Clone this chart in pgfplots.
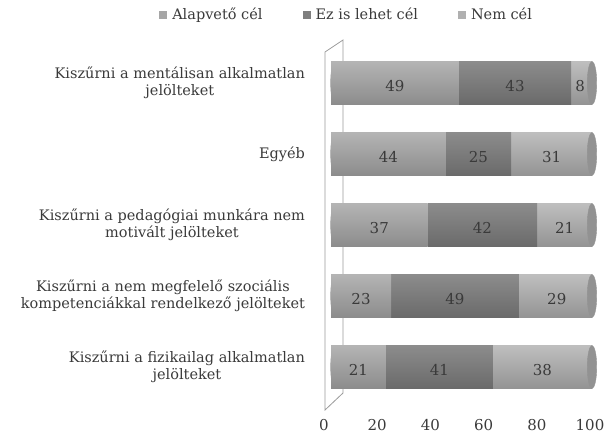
\documentclass[border=0pt]{standalone}
\usepackage{pgfplots}
\pgfplotsset{compat=1.18}
\usepackage{fontspec}
\setmainfont{DejaVu Serif}

\definecolor{txt}{HTML}{3A3A3A}
\definecolor{alapA}{HTML}{B4B4B4}
\definecolor{alapB}{HTML}{A6A6A6}
\definecolor{alapC}{HTML}{8C8C8C}
\definecolor{ezA}{HTML}{8C8C8C}
\definecolor{ezB}{HTML}{7F7F7F}
\definecolor{ezC}{HTML}{6A6A6A}
\definecolor{nemA}{HTML}{BEBEBE}
\definecolor{nemB}{HTML}{B0B0B0}
\definecolor{nemC}{HTML}{949494}
\definecolor{capc}{HTML}{929292}
\definecolor{wall}{HTML}{9A9A9A}

\pgfplotsset{
    rowax/.style={
        anchor=south west, scale only axis,
        width=261pt, height=71pt,
        xmin=0, xmax=100, ymin=-0.5, ymax=0.5,
        hide axis, xbar stacked, bar width=43pt,
    },
    fullax/.style={
        at={(331pt,36.5pt)}, anchor=south west, scale only axis,
        width=261pt, height=355pt,
        xmin=0, xmax=100, ymin=-0.5, ymax=4.5,
        hide axis,
    },
    alap/.style={draw=none, top color=alapA, middle color=alapB, bottom color=alapC},
    ez/.style={draw=none, top color=ezA, middle color=ezB, bottom color=ezC},
    nem/.style={draw=none, top color=nemA, middle color=nemB, bottom color=nemC},
}

\begin{document}
\fontsize{14.5}{17.5}\selectfont
\begin{tikzpicture}[x=1pt,y=1pt]
\useasboundingbox (0,0) rectangle (604,439);

% left wall of the 3D plot area
\draw[wall, line width=0.8pt] (325,29) -- (325,387) -- (343,399) -- (343,46) -- cycle;

% frame: tick labels, category names, legend
\begin{axis}[
    at={(324pt,36.5pt)}, anchor=south west,
    scale only axis,
    width=266pt, height=355pt,
    xmin=0, xmax=100,
    ymin=-0.5, ymax=4.5,
    xtick={0,20,...,100},
    ytick={0,...,4},
    yticklabels={
        {Kiszűrni a fizikailag alkalmatlan\\jelölteket},
        {Kiszűrni a nem megfelelő szociális\\kompetenciákkal rendelkező jelölteket},
        {Kiszűrni a pedagógiai munkára nem\\motivált jelölteket},
        {Egyéb},
        {Kiszűrni a mentálisan alkalmatlan\\jelölteket}},
    yticklabel style={align=center, text=txt, xshift=-14pt, font=\fontsize{14.5}{17.5}\selectfont},
    xticklabel style={text=txt, yshift=-12pt, font=\fontsize{15}{18}\selectfont},
    /pgf/number format/assume math mode=true,
    axis line style={draw=none},
    major tick length=0pt,
    legend columns=3,
    legend style={draw=none, fill=none, at={(axis description cs:0.085,1.092)}, anchor=center,
        /tikz/every even column/.append style={column sep=38pt},
        /tikz/every odd column/.append style={column sep=3pt},
        text=txt, font=\fontsize{14.5}{17.5}\selectfont},
    legend image code/.code={\fill[#1, draw=none] (0pt,-4pt) rectangle (8pt,4pt);},
]
\addlegendimage{fill=alapB, draw=none}
\addlegendentry{Alapvető cél}
\addlegendimage{fill=ezB, draw=none}
\addlegendentry{Ez is lehet cél}
\addlegendimage{fill=nemB, draw=none}
\addlegendentry{Nem cél}
\end{axis}

% rounded left ends of the cylinders
\begin{axis}[fullax]
\addplot[color=alapB, only marks, mark=*, mark size=21.5pt,
    mark options={xscale=0.2, draw=alapB, fill=alapB}]
    coordinates {(1.5,0) (1.5,1) (1.5,2) (1.5,3) (1.5,4)};
\end{axis}

% one axis per row, so that every bar gets its own shading
\begin{axis}[rowax, at={(331pt,36.5pt)}]
\addplot[alap] coordinates {(21,0)};
\addplot[ez]   coordinates {(41,0)};
\addplot[nem]  coordinates {(38,0)};
\end{axis}
\begin{axis}[rowax, at={(331pt,107.5pt)}]
\addplot[alap] coordinates {(23,0)};
\addplot[ez]   coordinates {(49,0)};
\addplot[nem]  coordinates {(29,0)};
\end{axis}
\begin{axis}[rowax, at={(331pt,178.5pt)}]
\addplot[alap] coordinates {(37,0)};
\addplot[ez]   coordinates {(42,0)};
\addplot[nem]  coordinates {(21,0)};
\end{axis}
\begin{axis}[rowax, at={(331pt,249.5pt)}]
\addplot[alap] coordinates {(44,0)};
\addplot[ez]   coordinates {(25,0)};
\addplot[nem]  coordinates {(31,0)};
\end{axis}
\begin{axis}[rowax, at={(331pt,320.5pt)}]
\addplot[alap] coordinates {(49,0)};
\addplot[ez]   coordinates {(43,0)};
\addplot[nem]  coordinates {(8,0)};
\end{axis}

% cylinder right end caps and value labels
\begin{axis}[fullax]
\addplot[color=capc, only marks, mark=*, mark size=21.5pt,
    mark options={xscale=0.22, draw=capc, fill=capc}]
    coordinates {(100,0) (100,1) (100,2) (100,3) (100,4)};
\addplot[draw=none, nodes near coords, point meta=explicit symbolic,
    every node near coord/.style={anchor=center, yshift=-3pt, text=txt,
        font=\fontsize{15}{18}\selectfont}]
    coordinates {
    (10.5,0)[21] (41.5,0)[41] (81,0)[38]
    (11.5,1)[23] (47.5,1)[49] (86.5,1)[29]
    (18.5,2)[37] (58,2)[42] (89.5,2)[21]
    (22,3)[44] (56.5,3)[25] (84.5,3)[31]
    (24.5,4)[49] (70.5,4)[43] (95.5,4)[8]
    };
\end{axis}
\end{tikzpicture}
\end{document}
